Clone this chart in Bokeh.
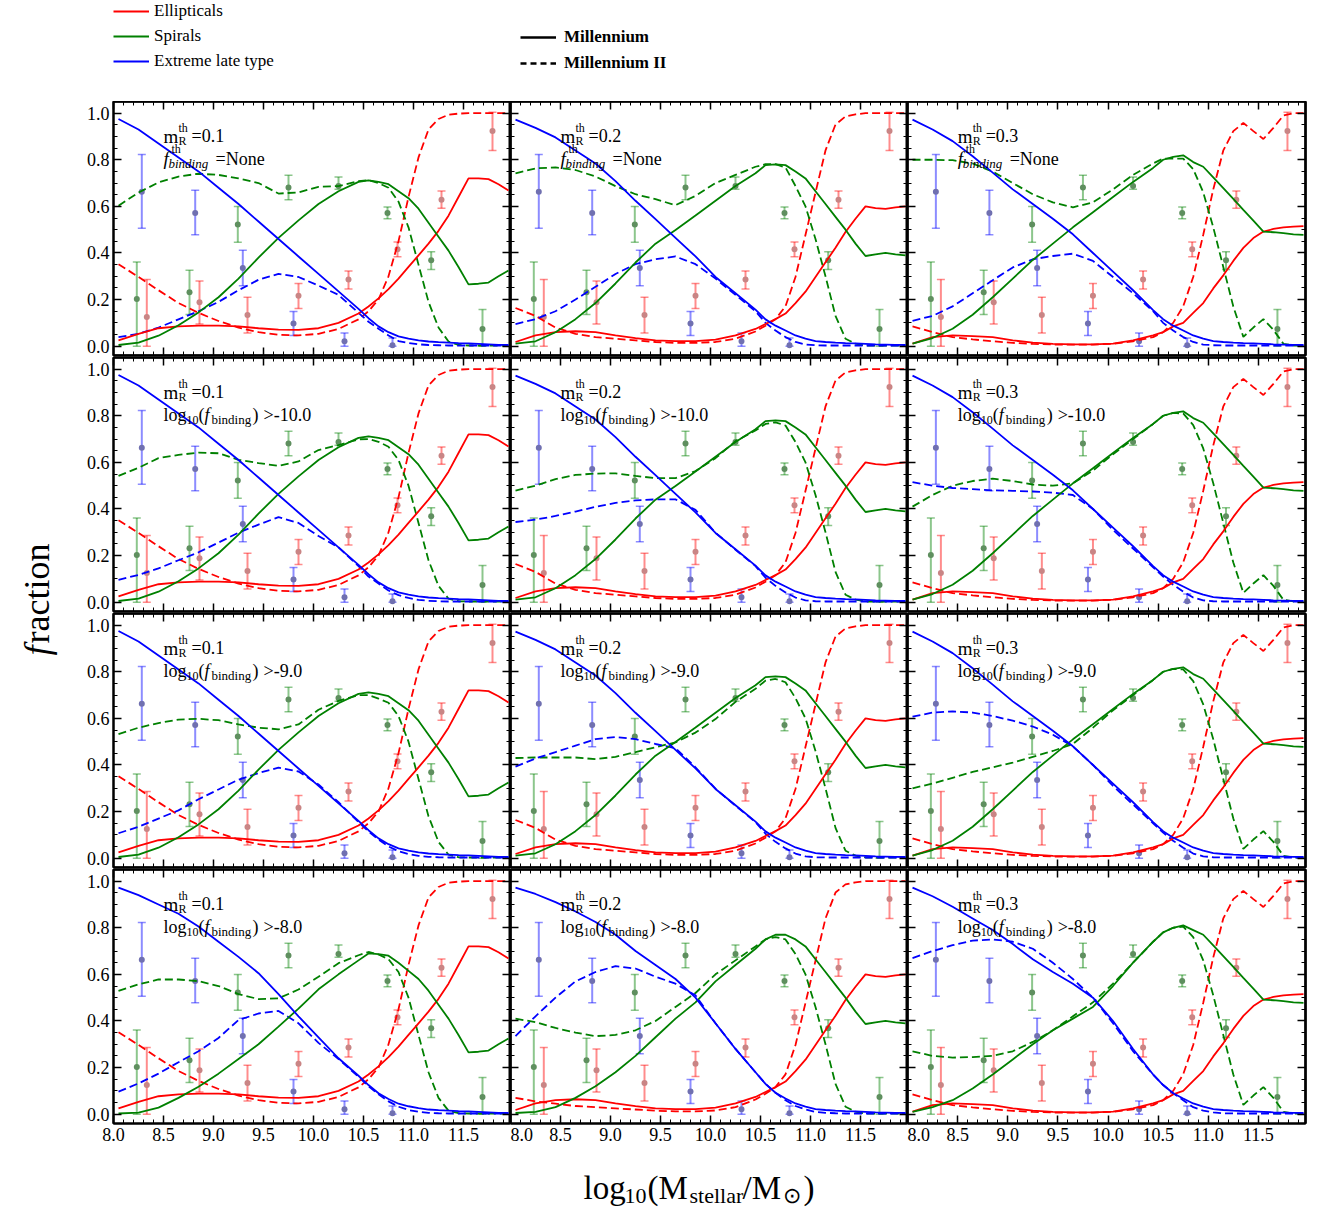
import math
from bokeh.plotting import figure
from bokeh.models import (LinearAxis, FixedTicker, Label, Legend, LegendItem, Whisker,
                          TeeHead, ColumnDataSource, Range1d, PrintfTickFormatter)
from bokeh.layouts import gridplot, column, row
from bokeh.embed import file_html
from bokeh.resources import INLINE

# ---------------- data ----------------
X_NODES = [8.05, 8.25, 8.45, 8.65, 8.85, 9.05, 9.25, 9.45, 9.65, 9.85, 10.05, 10.25, 10.45, 10.55,
           10.65, 10.75, 10.85, 10.95, 11.05, 11.15, 11.25, 11.35, 11.45, 11.55, 11.65, 11.75, 11.85, 11.95]

# observations (same in each panel)
OBS_ELL_X = [8.333, 8.86, 9.34, 9.85, 10.35, 10.84, 11.28, 11.79]
OBS_ELL_Y = [0.125, 0.188, 0.134, 0.216, 0.286, 0.416, 0.628, 0.923]
OBS_ELL_LO = [0.0, 0.095, 0.057, 0.162, 0.245, 0.384, 0.592, 0.84]
OBS_ELL_HI = [0.286, 0.28, 0.21, 0.269, 0.323, 0.447, 0.666, 1.004]
OBS_SPI_X = [8.233, 8.76, 9.243, 9.75, 10.25, 10.74, 11.177, 11.69]
OBS_SPI_Y = [0.202, 0.231, 0.522, 0.681, 0.687, 0.572, 0.369, 0.074]
OBS_SPI_LO = [0.0, 0.136, 0.446, 0.628, 0.673, 0.547, 0.329, 0.0]
OBS_SPI_HI = [0.361, 0.326, 0.599, 0.733, 0.726, 0.597, 0.405, 0.157]
OBS_ELT_X = [8.283, 8.817, 9.293, 9.80, 10.31, 10.79]
OBS_ELT_Y = [0.663, 0.572, 0.336, 0.097, 0.021, 0.004]
OBS_ELT_LO = [0.506, 0.478, 0.259, 0.046, 0.0, 0.0]
OBS_ELT_HI = [0.823, 0.669, 0.412, 0.149, 0.057, 0.035]

MR_VALUES = ["0.1", "0.2", "0.3"]
FB_VALUES = ["None", "-10.0", "-9.0", "-8.0"]

X_TICKS = [8.0, 8.5, 9.0, 9.5, 10.0, 10.5, 11.0, 11.5]
Y_TICKS = [0.0, 0.2, 0.4, 0.6, 0.8, 1.0]

# Millennium (solid), rows 1-3, per column
ELL_MILL_C1 = [0.025, 0.053, 0.077, 0.085, 0.088, 0.088, 0.085, 0.077, 0.071, 0.07, 0.077, 0.10, 0.14, 0.17,
               0.205, 0.245, 0.29, 0.34, 0.39, 0.44, 0.495, 0.56, 0.64, 0.72, 0.72, 0.717, 0.695, 0.668]
SPI_MILL_C1 = [0.005, 0.015, 0.045, 0.09, 0.145, 0.21, 0.29, 0.38, 0.465, 0.54, 0.61, 0.665, 0.705, 0.712,
               0.705, 0.695, 0.665, 0.635, 0.59, 0.53, 0.47, 0.41, 0.34, 0.265, 0.268, 0.273, 0.30, 0.325]
ELT_MILL_C1 = [0.975, 0.93, 0.87, 0.81, 0.75, 0.68, 0.61, 0.535, 0.46, 0.385, 0.31, 0.235, 0.16, 0.12,
               0.085, 0.06, 0.042, 0.032, 0.025, 0.02, 0.017, 0.015, 0.013, 0.012, 0.01, 0.008, 0.006, 0.005]
ELL_MILL_C2 = [0.018, 0.046, 0.06, 0.064, 0.06, 0.046, 0.035, 0.025, 0.022, 0.022, 0.028, 0.046, 0.074, 0.095,
               0.116, 0.14, 0.185, 0.234, 0.297, 0.36, 0.422, 0.49, 0.547, 0.60, 0.592, 0.589, 0.596, 0.60]
SPI_MILL_C2 = [0.011, 0.021, 0.06, 0.116, 0.185, 0.269, 0.359, 0.44, 0.499, 0.561, 0.624, 0.687, 0.742, 0.777,
               0.78, 0.777, 0.75, 0.72, 0.665, 0.61, 0.555, 0.50, 0.44, 0.387, 0.394, 0.40, 0.394, 0.39]
ELT_MILL_C2 = [0.972, 0.937, 0.896, 0.84, 0.784, 0.708, 0.624, 0.545, 0.465, 0.385, 0.297, 0.227, 0.157, 0.115,
               0.088, 0.067, 0.046, 0.032, 0.022, 0.018, 0.015, 0.013, 0.012, 0.01, 0.008, 0.007, 0.006, 0.005]
ELL_MILL_C3 = [0.011, 0.039, 0.046, 0.043, 0.039, 0.025, 0.015, 0.01, 0.008, 0.008, 0.011, 0.025, 0.046, 0.06,
               0.085, 0.10, 0.143, 0.185, 0.248, 0.304, 0.366, 0.422, 0.464, 0.492, 0.503, 0.51, 0.513, 0.515]
SPI_MILL_C3 = [0.011, 0.035, 0.075, 0.135, 0.21, 0.29, 0.37, 0.44, 0.51, 0.575, 0.64, 0.705, 0.765, 0.80,
               0.812, 0.819, 0.79, 0.77, 0.724, 0.678, 0.632, 0.585, 0.539, 0.492, 0.489, 0.485, 0.48, 0.478]
ELT_MILL_C3 = [0.972, 0.93, 0.88, 0.815, 0.745, 0.673, 0.61, 0.547, 0.48, 0.40, 0.32, 0.24, 0.155, 0.116,
               0.088, 0.067, 0.046, 0.032, 0.022, 0.018, 0.015, 0.013, 0.012, 0.01, 0.008, 0.007, 0.006, 0.005]
# Millennium (solid), row 4
SPI_MILL_R4C1 = [0.003, 0.007, 0.028, 0.07, 0.118, 0.174, 0.237, 0.30, 0.376, 0.453, 0.536, 0.60, 0.66, 0.69,
                 0.687, 0.68, 0.65, 0.615, 0.58, 0.53, 0.47, 0.41, 0.34, 0.265, 0.268, 0.273, 0.30, 0.325]
ELT_MILL_R4C1 = [0.972, 0.94, 0.90, 0.86, 0.805, 0.74, 0.675, 0.605, 0.515, 0.42, 0.33, 0.24, 0.165, 0.125,
                 0.09, 0.065, 0.045, 0.034, 0.026, 0.02, 0.017, 0.015, 0.013, 0.012, 0.01, 0.008, 0.006, 0.005]
SPI_MILL_R4C2 = [0.005, 0.01, 0.03, 0.07, 0.12, 0.18, 0.25, 0.33, 0.41, 0.48, 0.57, 0.64, 0.71, 0.75,
                 0.77, 0.77, 0.75, 0.72, 0.665, 0.61, 0.555, 0.50, 0.44, 0.387, 0.394, 0.40, 0.394, 0.39]
ELT_MILL_R4C2 = [0.972, 0.945, 0.91, 0.87, 0.825, 0.77, 0.70, 0.64, 0.58, 0.50, 0.39, 0.28, 0.18, 0.13,
                 0.092, 0.067, 0.046, 0.032, 0.022, 0.018, 0.015, 0.013, 0.012, 0.01, 0.008, 0.007, 0.006, 0.005]
SPI_MILL_R4C3 = [0.01, 0.03, 0.06, 0.11, 0.17, 0.235, 0.30, 0.36, 0.41, 0.46, 0.55, 0.65, 0.74, 0.78,
                 0.80, 0.81, 0.79, 0.77, 0.724, 0.678, 0.632, 0.585, 0.539, 0.492, 0.489, 0.485, 0.48, 0.478]
ELT_MILL_R4C3 = [0.972, 0.935, 0.89, 0.84, 0.79, 0.73, 0.665, 0.61, 0.56, 0.50, 0.40, 0.28, 0.17, 0.125,
                 0.09, 0.067, 0.046, 0.032, 0.022, 0.018, 0.015, 0.013, 0.012, 0.01, 0.008, 0.007, 0.006, 0.005]

# Millennium II (dashed)
ELL_MII_C1 = [0.352, 0.297, 0.24, 0.185, 0.143, 0.108, 0.08, 0.06, 0.049, 0.046, 0.053, 0.074, 0.115, 0.15,
              0.20, 0.30, 0.45, 0.64, 0.81, 0.93, 0.975, 0.993, 0.998, 1.0, 1.0, 1.0, 1.0, 1.0]
ELL_MII_C2 = [0.164, 0.13, 0.08, 0.053, 0.039, 0.032, 0.025, 0.018, 0.014, 0.014, 0.018, 0.032, 0.063, 0.088,
              0.116, 0.171, 0.297, 0.478, 0.659, 0.84, 0.951, 0.986, 0.995, 1.0, 1.0, 1.0, 1.0, 1.0]
ELL_MII_R4C2 = [0.07, 0.055, 0.045, 0.035, 0.03, 0.025, 0.02, 0.015, 0.012, 0.012, 0.016, 0.03, 0.063, 0.088,
                0.116, 0.171, 0.297, 0.478, 0.659, 0.84, 0.951, 0.986, 0.995, 1.0, 1.0, 1.0, 1.0, 1.0]
ELL_MII_C3 = [0.085, 0.06, 0.039, 0.029, 0.021, 0.014, 0.01, 0.007, 0.007, 0.007, 0.01, 0.021, 0.039, 0.06,
              0.10, 0.171, 0.297, 0.478, 0.673, 0.84, 0.923, 0.958, 0.923, 0.889, 0.937, 0.99, 1.0, 1.0]

SPI_MII_R1C1 = [0.603, 0.659, 0.703, 0.728, 0.74, 0.735, 0.72, 0.70, 0.655, 0.66, 0.684, 0.687, 0.708, 0.712,
                0.70, 0.68, 0.62, 0.51, 0.35, 0.19, 0.08, 0.02, 0.005, 0.003, 0.003, 0.003, 0.003, 0.003]
ELT_MII_R1C1 = [0.039, 0.053, 0.08, 0.115, 0.15, 0.19, 0.24, 0.285, 0.31, 0.297, 0.26, 0.22, 0.143, 0.105,
                0.075, 0.046, 0.022, 0.014, 0.008, 0.005, 0.004, 0.003, 0.003, 0.003, 0.003, 0.003, 0.003, 0.003]
SPI_MII_R2C1 = [0.542, 0.577, 0.618, 0.632, 0.642, 0.639, 0.611, 0.597, 0.585, 0.604, 0.653, 0.674, 0.699, 0.70,
                0.688, 0.667, 0.61, 0.50, 0.34, 0.18, 0.07, 0.015, 0.004, 0.003, 0.003, 0.003, 0.003, 0.003]
ELT_MII_R2C1 = [0.096, 0.117, 0.145, 0.18, 0.214, 0.256, 0.298, 0.333, 0.365, 0.34, 0.284, 0.235, 0.155, 0.11,
                0.08, 0.05, 0.03, 0.018, 0.01, 0.006, 0.004, 0.003, 0.003, 0.003, 0.003, 0.003, 0.003, 0.003]
SPI_MII_R3C1 = [0.532, 0.56, 0.58, 0.595, 0.598, 0.592, 0.574, 0.56, 0.553, 0.574, 0.637, 0.675, 0.70, 0.70,
                0.685, 0.667, 0.61, 0.50, 0.34, 0.18, 0.07, 0.015, 0.004, 0.003, 0.003, 0.003, 0.003, 0.003]
ELT_MII_R3C1 = [0.107, 0.135, 0.17, 0.205, 0.253, 0.295, 0.337, 0.365, 0.389, 0.372, 0.316, 0.24, 0.155, 0.115,
                0.08, 0.05, 0.03, 0.018, 0.01, 0.006, 0.004, 0.003, 0.003, 0.003, 0.003, 0.003, 0.003, 0.003]
SPI_MII_R4C1 = [0.529, 0.557, 0.578, 0.578, 0.571, 0.55, 0.515, 0.494, 0.497, 0.535, 0.59, 0.648, 0.682, 0.696,
                0.685, 0.665, 0.61, 0.50, 0.34, 0.18, 0.07, 0.015, 0.004, 0.003, 0.003, 0.003, 0.003, 0.003]
ELT_MII_R4C1 = [0.097, 0.132, 0.174, 0.223, 0.27, 0.327, 0.404, 0.432, 0.443, 0.39, 0.306, 0.237, 0.16, 0.12,
                0.085, 0.055, 0.032, 0.018, 0.01, 0.006, 0.004, 0.003, 0.003, 0.003, 0.003, 0.003, 0.003, 0.003]

SPI_MII_R1C2 = [0.742, 0.763, 0.767, 0.756, 0.728, 0.687, 0.652, 0.631, 0.605, 0.645, 0.70, 0.735, 0.77, 0.781,
                0.781, 0.767, 0.687, 0.60, 0.46, 0.30, 0.13, 0.032, 0.011, 0.003, 0.003, 0.003, 0.003, 0.003]
ELT_MII_R1C2 = [0.095, 0.116, 0.15, 0.20, 0.255, 0.31, 0.352, 0.373, 0.385, 0.352, 0.29, 0.22, 0.15, 0.10,
                0.067, 0.039, 0.018, 0.007, 0.004, 0.003, 0.003, 0.003, 0.003, 0.003, 0.003, 0.003, 0.003, 0.003]
SPI_MII_R2C2 = [0.479, 0.50, 0.528, 0.546, 0.552, 0.553, 0.542, 0.532, 0.532, 0.563, 0.618, 0.691, 0.737, 0.765,
                0.772, 0.758, 0.687, 0.60, 0.46, 0.30, 0.13, 0.032, 0.011, 0.003, 0.003, 0.003, 0.003, 0.003]
ELT_MII_R2C2 = [0.344, 0.354, 0.37, 0.389, 0.409, 0.426, 0.437, 0.441, 0.441, 0.396, 0.298, 0.225, 0.155, 0.105,
                0.07, 0.042, 0.02, 0.008, 0.004, 0.003, 0.003, 0.003, 0.003, 0.003, 0.003, 0.003, 0.003, 0.003]
SPI_MII_R3C2 = [0.43, 0.432, 0.432, 0.432, 0.425, 0.435, 0.455, 0.476, 0.497, 0.539, 0.597, 0.671, 0.727, 0.762,
                0.769, 0.755, 0.687, 0.60, 0.46, 0.30, 0.13, 0.032, 0.011, 0.003, 0.003, 0.003, 0.003, 0.003]
ELT_MII_R3C2 = [0.393, 0.428, 0.455, 0.483, 0.511, 0.52, 0.511, 0.49, 0.472, 0.39, 0.298, 0.225, 0.155, 0.105,
                0.07, 0.042, 0.02, 0.008, 0.004, 0.003, 0.003, 0.003, 0.003, 0.003, 0.003, 0.003, 0.003, 0.003]
SPI_MII_R4C2 = [0.41, 0.395, 0.37, 0.35, 0.335, 0.34, 0.36, 0.40, 0.46, 0.52, 0.60, 0.66, 0.72, 0.75,
                0.76, 0.75, 0.687, 0.60, 0.46, 0.30, 0.13, 0.032, 0.011, 0.003, 0.003, 0.003, 0.003, 0.003]
ELT_MII_R4C2 = [0.335, 0.42, 0.50, 0.57, 0.61, 0.635, 0.625, 0.59, 0.56, 0.51, 0.39, 0.28, 0.18, 0.13,
                0.092, 0.06, 0.035, 0.02, 0.01, 0.006, 0.004, 0.003, 0.003, 0.003, 0.003, 0.003, 0.003, 0.003]

SPI_MII_R1C3 = [0.80, 0.80, 0.798, 0.784, 0.749, 0.70, 0.652, 0.617, 0.596, 0.617, 0.673, 0.735, 0.784, 0.805,
                0.805, 0.805, 0.76, 0.66, 0.51, 0.34, 0.17, 0.04, 0.08, 0.116, 0.07, 0.01, 0.003, 0.003]
ELT_MII_R1C3 = [0.109, 0.13, 0.171, 0.227, 0.283, 0.338, 0.373, 0.387, 0.397, 0.366, 0.297, 0.227, 0.15, 0.10,
                0.067, 0.039, 0.018, 0.007, 0.004, 0.003, 0.003, 0.003, 0.003, 0.003, 0.003, 0.003, 0.003, 0.003]
SPI_MII_R2C3 = [0.41, 0.46, 0.50, 0.52, 0.53, 0.52, 0.505, 0.50, 0.51, 0.565, 0.635, 0.70, 0.765, 0.80,
                0.812, 0.81, 0.76, 0.66, 0.51, 0.34, 0.17, 0.04, 0.08, 0.116, 0.07, 0.01, 0.003, 0.003]
ELT_MII_R2C3 = [0.515, 0.50, 0.49, 0.485, 0.48, 0.478, 0.475, 0.47, 0.46, 0.40, 0.31, 0.23, 0.15, 0.11,
                0.075, 0.045, 0.02, 0.008, 0.004, 0.003, 0.003, 0.003, 0.003, 0.003, 0.003, 0.003, 0.003, 0.003]
SPI_MII_R3C3 = [0.30, 0.32, 0.345, 0.37, 0.39, 0.41, 0.435, 0.46, 0.49, 0.56, 0.635, 0.70, 0.765, 0.80,
                0.812, 0.81, 0.76, 0.66, 0.51, 0.34, 0.17, 0.04, 0.08, 0.116, 0.07, 0.01, 0.003, 0.003]
ELT_MII_R3C3 = [0.607, 0.625, 0.63, 0.625, 0.61, 0.59, 0.565, 0.53, 0.48, 0.40, 0.31, 0.23, 0.15, 0.11,
                0.075, 0.045, 0.02, 0.008, 0.004, 0.003, 0.003, 0.003, 0.003, 0.003, 0.003, 0.003, 0.003, 0.003]
SPI_MII_R4C3 = [0.27, 0.25, 0.243, 0.245, 0.25, 0.27, 0.31, 0.36, 0.42, 0.48, 0.56, 0.65, 0.74, 0.78,
                0.80, 0.805, 0.76, 0.66, 0.51, 0.34, 0.17, 0.04, 0.08, 0.116, 0.07, 0.01, 0.003, 0.003]
ELT_MII_R4C3 = [0.67, 0.70, 0.725, 0.745, 0.75, 0.74, 0.71, 0.65, 0.58, 0.50, 0.39, 0.27, 0.17, 0.125,
                0.09, 0.06, 0.03, 0.015, 0.008, 0.004, 0.003, 0.003, 0.003, 0.003, 0.003, 0.003, 0.003, 0.003]

# assemble per panel: (ell, spi, elt)
SOLID = {0: (ELL_MILL_C1, SPI_MILL_C1, ELT_MILL_C1),
         1: (ELL_MILL_C2, SPI_MILL_C2, ELT_MILL_C2),
         2: (ELL_MILL_C3, SPI_MILL_C3, ELT_MILL_C3)}
SOLID_R4 = {0: (ELL_MILL_C1, SPI_MILL_R4C1, ELT_MILL_R4C1),
            1: (ELL_MILL_C2, SPI_MILL_R4C2, ELT_MILL_R4C2),
            2: (ELL_MILL_C3, SPI_MILL_R4C3, ELT_MILL_R4C3)}
DASH = {
    (0, 0): (ELL_MII_C1, SPI_MII_R1C1, ELT_MII_R1C1),
    (1, 0): (ELL_MII_C1, SPI_MII_R2C1, ELT_MII_R2C1),
    (2, 0): (ELL_MII_C1, SPI_MII_R3C1, ELT_MII_R3C1),
    (3, 0): (ELL_MII_C1, SPI_MII_R4C1, ELT_MII_R4C1),
    (0, 1): (ELL_MII_C2, SPI_MII_R1C2, ELT_MII_R1C2),
    (1, 1): (ELL_MII_C2, SPI_MII_R2C2, ELT_MII_R2C2),
    (2, 1): (ELL_MII_C2, SPI_MII_R3C2, ELT_MII_R3C2),
    (3, 1): (ELL_MII_R4C2, SPI_MII_R4C2, ELT_MII_R4C2),
    (0, 2): (ELL_MII_C3, SPI_MII_R1C3, ELT_MII_R1C3),
    (1, 2): (ELL_MII_C3, SPI_MII_R2C3, ELT_MII_R2C3),
    (2, 2): (ELL_MII_C3, SPI_MII_R3C3, ELT_MII_R3C3),
    (3, 2): (ELL_MII_C3, SPI_MII_R4C3, ELT_MII_R4C3),
}

# ---------------- style ----------------
FONT = "Liberation Serif"
RED, GREEN, BLUE = "#ff0000", "#008000", "#0000ff"
DOT = {RED: "#c98585", GREEN: "#5f8f5f", BLUE: "#7070b0"}
X_MINOR = [round(8.0 + 0.1 * i, 2) for i in range(40)]
Y_MINOR = [round(0.05 * i, 2) for i in range(22)]


def base_axis_style(ax):
    ax.axis_line_color = "black"
    ax.axis_line_width = 2
    ax.major_tick_out = 0
    ax.minor_tick_out = 0
    ax.major_tick_line_color = "black"
    ax.minor_tick_line_color = "black"
    ax.major_tick_line_width = 1.5
    ax.minor_tick_line_width = 1


def labeled_axis(p, loc, ticks, minor):
    ax = LinearAxis(ticker=FixedTicker(ticks=ticks, minor_ticks=minor))
    base_axis_style(ax)
    ax.major_tick_in = 8
    ax.minor_tick_in = 4
    ax.formatter = PrintfTickFormatter(format="%.1f")
    ax.major_label_text_font = FONT
    ax.major_label_text_font_size = "18px"
    ax.major_label_text_color = "black"
    ax.major_label_standoff = 4
    p.add_layout(ax, loc)


def bare_axes(p, loc, ticks, minor):
    # ticks only, no labels: short and long ticks as two tick-only axes
    short = LinearAxis(ticker=FixedTicker(ticks=[], minor_ticks=minor))
    base_axis_style(short)
    short.minor_tick_in = 4
    p.add_layout(short, loc)
    long_ = LinearAxis(ticker=FixedTicker(ticks=[], minor_ticks=ticks))
    base_axis_style(long_)
    long_.minor_tick_in = 8
    long_.minor_tick_line_width = 1.5
    p.add_layout(long_, loc)


def add_text(p, text, x, y, xo, yo, size, style="normal"):
    p.add_layout(Label(x=x, y=y, x_offset=xo, y_offset=yo, text=text, text_font=FONT,
                       text_font_size=f"{size}px", text_font_style=style,
                       text_baseline="alphabetic", text_align="left", text_color="black"))


def make_panel(r, c):
    p = figure(frame_width=397 if c < 2 else 398, frame_height=254,
               x_range=Range1d(8.0, 11.97), y_range=Range1d(-0.04, 1.05),
               x_axis_location=None, y_axis_location=None,
               toolbar_location=None, output_backend="svg",
               min_border_left=53 if c == 0 else 0, min_border_right=13 if c == 2 else 0,
               min_border_top=0, min_border_bottom=30 if r == 3 else 2,
               outline_line_color="black", outline_line_width=2,
               background_fill_color="white", border_fill_color="white")
    p.grid.visible = False
    if r == 3:
        labeled_axis(p, "below", X_TICKS, X_MINOR)
    else:
        bare_axes(p, "below", X_TICKS, X_MINOR)
    bare_axes(p, "above", X_TICKS, X_MINOR)
    if c == 0:
        labeled_axis(p, "left", Y_TICKS, Y_MINOR)
    else:
        bare_axes(p, "left", Y_TICKS, Y_MINOR)
    bare_axes(p, "right", Y_TICKS, Y_MINOR)

    # observations
    for xs, ys, lo, hi, col in ((OBS_SPI_X, OBS_SPI_Y, OBS_SPI_LO, OBS_SPI_HI, GREEN),
                                (OBS_ELL_X, OBS_ELL_Y, OBS_ELL_LO, OBS_ELL_HI, RED),
                                (OBS_ELT_X, OBS_ELT_Y, OBS_ELT_LO, OBS_ELT_HI, BLUE)):
        src = ColumnDataSource(dict(x=xs, y=ys, lo=lo, hi=hi))
        w = Whisker(source=src, base="x", lower="lo", upper="hi", dimension="height",
                    line_color=col, line_alpha=0.45, line_width=2,
                    lower_head=TeeHead(size=8, line_color=col, line_alpha=0.45, line_width=1.5),
                    upper_head=TeeHead(size=8, line_color=col, line_alpha=0.45, line_width=1.5))
        w.level = "underlay"
        p.add_layout(w)
        p.scatter("x", "y", source=src, size=6, fill_color=DOT[col], line_color=None)

    solid = SOLID_R4[c] if r == 3 else SOLID[c]
    dash = DASH[(r, c)]
    for ys, col in zip(dash, (RED, GREEN, BLUE)):
        p.line(X_NODES, ys, line_color=col, line_width=1.8, line_dash="8 4")
    for ys, col in zip(solid, (RED, GREEN, BLUE)):
        p.line(X_NODES, ys, line_color=col, line_width=1.8)

    # annotations
    add_text(p, "m", 8.5, 0.90, 0, 0, 19)
    add_text(p, "th", 8.5, 0.90, 15, 8, 12)
    add_text(p, "R", 8.5, 0.90, 15, -5, 12)
    add_text(p, "=" + MR_VALUES[c], 8.5, 0.90, 28, 0, 18)
    if r == 0:
        add_text(p, "f", 8.5, 0.805, 0, 0, 19, "italic")
        add_text(p, "th", 8.5, 0.805, 8, 10, 12)
        add_text(p, "binding", 8.5, 0.805, 5, -5, 13, "italic")
        add_text(p, "=None", 8.5, 0.805, 52, 0, 18)
    else:
        add_text(p, "log", 8.5, 0.805, 0, 0, 18)
        add_text(p, "10", 8.5, 0.805, 23, -5, 12)
        add_text(p, "(", 8.5, 0.805, 35, 0, 18)
        add_text(p, "f", 8.5, 0.805, 41, 0, 18, "italic")
        add_text(p, "binding", 8.5, 0.805, 48, -5, 13)
        add_text(p, ")", 8.5, 0.805, 89, 0, 18)
        add_text(p, ">" + FB_VALUES[r], 8.5, 0.805, 100, 0, 18)
    return p


panels = [[make_panel(r, c) for c in range(3)] for r in range(4)]
grid = gridplot(panels, toolbar_location=None)

# ---------------- legend strip ----------------
lf = figure(width=1318, height=101, x_range=(0, 1), y_range=(0, 1), toolbar_location=None,
            output_backend="svg", x_axis_location=None, y_axis_location=None,
            min_border=0, outline_line_color=None)
lf.grid.visible = False
# legend proxies (kept outside the visible range)
PROXY = [-5, -4]
r_red = lf.line(PROXY, PROXY, line_color=RED, line_width=2)
r_green = lf.line(PROXY, PROXY, line_color=GREEN, line_width=2)
r_blue = lf.line(PROXY, PROXY, line_color=BLUE, line_width=2)
r_solid = lf.line(PROXY, PROXY, line_color="black", line_width=2.5)
r_dash = lf.line(PROXY, PROXY, line_color="black", line_width=2.5, line_dash="6 4")
leg1 = Legend(items=[LegendItem(label="Ellipticals", renderers=[r_red]),
                     LegendItem(label="Spirals", renderers=[r_green]),
                     LegendItem(label="Extreme late type", renderers=[r_blue])],
              location=(113, 30), glyph_width=36, glyph_height=20, label_height=20, spacing=5,
              padding=0, margin=0, label_standoff=5, label_text_font=FONT,
              label_text_font_size="17px", label_text_color="black",
              border_line_alpha=0, background_fill_alpha=0)
leg2 = Legend(items=[LegendItem(label="Millennium", renderers=[r_solid]),
                     LegendItem(label="Millennium II", renderers=[r_dash])],
              location=(520, 28), glyph_width=36, glyph_height=20, label_height=20, spacing=6,
              padding=0, margin=0, label_standoff=8, label_text_font=FONT,
              label_text_font_size="17px", label_text_font_style="bold", label_text_color="black",
              border_line_alpha=0, background_fill_alpha=0)
lf.add_layout(leg1)
lf.add_layout(leg2)

# ---------------- y label strip ----------------
yl = figure(width=60, height=1052, x_range=(0, 60), y_range=(0, 1052), toolbar_location=None,
            output_backend="svg", x_axis_location=None, y_axis_location=None,
            min_border=0, outline_line_color=None)
yl.grid.visible = False
yl.add_layout(Label(x=36, y=498, angle=math.pi / 2, text="f", text_font=FONT, text_font_size="36px",
                    text_font_style="italic", text_baseline="alphabetic", text_align="left",
                    text_color="black"))
yl.add_layout(Label(x=36, y=510, angle=math.pi / 2, text="raction", text_font=FONT,
                    text_font_size="36px", text_baseline="alphabetic", text_align="left",
                    text_color="black"))

# ---------------- x label strip ----------------
xl = figure(width=1318, height=58, x_range=(0, 1318), y_range=(0, 58), toolbar_location=None,
            output_backend="svg", x_axis_location=None, y_axis_location=None,
            min_border=0, outline_line_color=None)
xl.grid.visible = False
for txt, x, yo, size in (("log", 583, 0, 33), ("10", 624, -8, 22), ("(M", 647, 0, 33),
                         ("stellar", 689, -8, 22), ("/M", 742, 0, 33), ("\u2299", 782, -8, 22),
                         (")", 803, 0, 33)):
    xl.add_layout(Label(x=x, y=24, y_offset=yo, text=txt, text_font=FONT, text_font_size=f"{size}px",
                        text_baseline="alphabetic", text_align="left", text_color="black"))

layout = column(lf, row(yl, grid), xl)
open("out.html", "w").write(file_html(layout, INLINE))
